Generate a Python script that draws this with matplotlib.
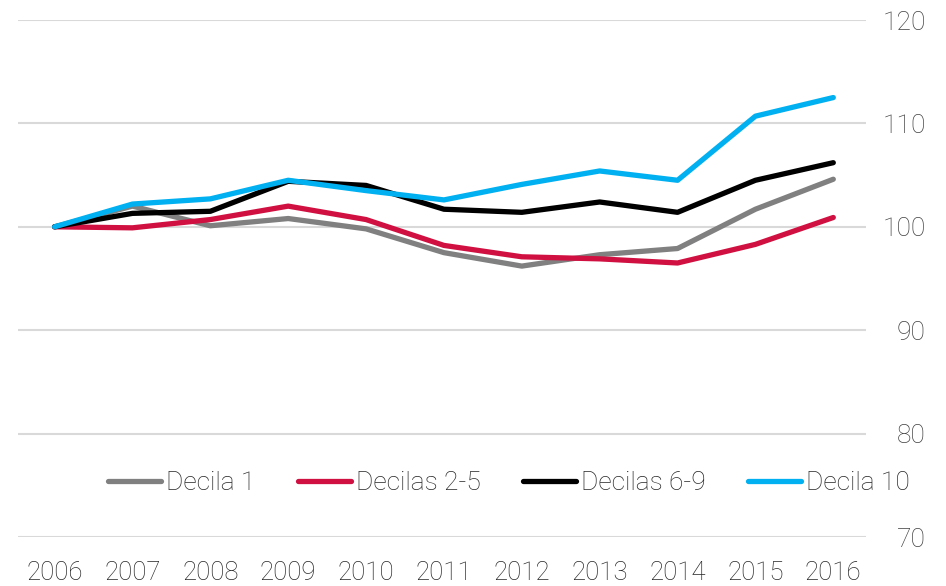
import matplotlib.pyplot as plt

years = ["2006", "2007", "2008", "2009", "2010", "2011", "2012", "2013", "2014", "2015", "2016"]
decila_1 = [100.0, 102.0, 100.1, 100.8, 99.8, 97.5, 96.2, 97.3, 97.9, 101.7, 104.6]
decilas_2_5 = [100.0, 99.9, 100.7, 102.0, 100.7, 98.2, 97.1, 96.9, 96.5, 98.3, 100.9]
decilas_6_9 = [100.0, 101.3, 101.5, 104.4, 104.0, 101.7, 101.4, 102.4, 101.4, 104.5, 106.2]
decila_10 = [100.0, 102.2, 102.7, 104.5, 103.5, 102.6, 104.1, 105.4, 104.5, 110.7, 112.5]

series = [
    ("Decila 1", decila_1, "#808080"),
    ("Decilas 2-5", decilas_2_5, "#d01040"),
    ("Decilas 6-9", decilas_6_9, "#000000"),
    ("Decila 10", decila_10, "#00b0f0"),
]


def main() -> None:
    plt.rcParams["font.family"] = ["Roboto", "DejaVu Sans"]
    fig = plt.figure(figsize=(9.46, 5.86), dpi=100)
    ax = fig.add_axes([18 / 946, 1 - 537 / 586, (866 - 18) / 946, (537 - 20) / 586])

    x = list(range(len(years)))
    for name, vals, color in series:
        ax.plot(x, vals, color=color, lw=3.8, label=name, solid_capstyle="round")

    ax.set_xlim(-0.47, len(years) - 1 + 0.42)
    ax.set_ylim(70, 120)
    ax.set_yticks([70, 80, 90, 100, 110, 120])
    ax.set_xticks(x)
    ax.set_xticklabels(years)

    ax.grid(axis="y", color="#d9d9d9", lw=1.5)
    ax.set_axisbelow(True)
    for s in ax.spines.values():
        s.set_visible(False)

    ax.tick_params(axis="x", length=0, pad=17, labelsize=18.5, labelcolor="#262626")
    ax.tick_params(axis="y", length=0, left=False, labelleft=False, labelright=True,
                   pad=43, labelsize=19, labelcolor="#404040")
    for lab in ax.get_yticklabels():
        lab.set_horizontalalignment("right")
    for lab in ax.get_xticklabels() + ax.get_yticklabels():
        lab.set_fontweight("light")

    leg = fig.legend(loc="center", bbox_to_anchor=(509 / 946, 1 - 483 / 586), ncol=4,
                     frameon=False, fontsize=19, handlelength=2.0, handletextpad=0.2,
                     columnspacing=1.6)
    for t in leg.get_texts():
        t.set_color("#262626")
        t.set_fontweight("light")

    fig.savefig("out.png", dpi=100)


if __name__ == "__main__":
    main()
